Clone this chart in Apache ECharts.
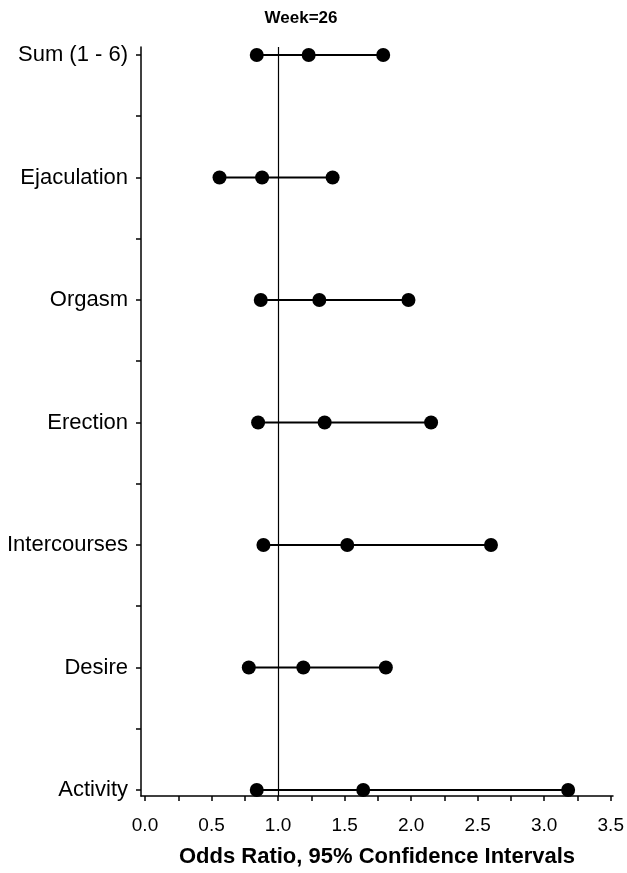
<!DOCTYPE html>
<html>
<head>
<meta charset="utf-8">
<script src="https://cdn.jsdelivr.net/npm/echarts@6/dist/echarts.min.js"></script>
<style>
  html, body { margin: 0; padding: 0; background: #fff; }
  #main { width: 627px; height: 873px; }
</style>
</head>
<body>
<div id="main"></div>
<script>
// rows, top to bottom
var categories = ['Sum (1 - 6)', 'Ejaculation', 'Orgasm', 'Erection', 'Intercourses', 'Desire', 'Activity'];
var lower = [0.84, 0.56, 0.87, 0.85, 0.89, 0.78, 0.84];
var estimate = [1.23, 0.88, 1.31, 1.35, 1.52, 1.19, 1.64];
var upper = [1.79, 1.41, 1.98, 2.15, 2.60, 1.81, 3.18];
var xLabels = [0, 0.5, 1, 1.5, 2, 2.5, 3, 3.5];

var FONT = 'Liberation Sans';

var chart = echarts.init(document.getElementById('main'), null, { renderer: 'canvas' });

// dots: lower, estimate, upper for each row
var dots = [];
for (var i = 0; i < categories.length; i++) {
  dots.push([lower[i], i]);
  dots.push([estimate[i], i]);
  dots.push([upper[i], i]);
}
var segs = categories.map(function (c, i) { return [lower[i], upper[i], i]; });

var xTicks = [];
for (var t = 0; t <= 3.5; t += 0.25) xTicks.push(t);
var yTicks = [];
for (var k = 0; k <= 6; k += 0.5) yTicks.push(k);

var option = {
  backgroundColor: '#fff',
  animation: false,
  title: {
    text: 'Week=26',
    left: 296,
    top: 5,
    textAlign: 'center',
    textStyle: { fontFamily: FONT, fontSize: 17, fontWeight: 'bold', color: '#000' }
  },
  grid: { left: 141, right: 14, top: 47, bottom: 76 },
  xAxis: {
    type: 'value',
    min: -0.03,
    max: 3.517,
    name: 'Odds Ratio, 95% Confidence Intervals',
    nameLocation: 'middle',
    nameGap: 50,
    nameTextStyle: { fontFamily: FONT, fontSize: 22, fontWeight: 'bold', color: '#000' },
    splitLine: { show: false },
    axisLine: { onZero: false, lineStyle: { color: '#000', width: 1.5 } },
    axisTick: { customValues: xTicks, length: 5, lineStyle: { color: '#000', width: 1.5 } },
    axisLabel: {
      customValues: xLabels,
      margin: 20,
      fontFamily: FONT, fontSize: 19, color: '#000',
      formatter: function (v) { return v.toFixed(1); }
    }
  },
  yAxis: {
    type: 'value',
    inverse: true,
    min: -0.065,
    max: 6.049,
    splitLine: { show: false },
    axisLine: { onZero: false, lineStyle: { color: '#000', width: 1.5 } },
    axisTick: { customValues: yTicks, length: 5, lineStyle: { color: '#000', width: 1.5 } },
    axisLabel: {
      customValues: [0, 1, 2, 3, 4, 5, 6],
      margin: 13,
      fontFamily: FONT, fontSize: 22, color: '#000',
      formatter: function (v) { return categories[Math.round(v)]; }
    }
  },
  series: [
    {
      type: 'custom',
      data: segs,
      renderItem: function (params, api) {
        var a = api.coord([api.value(0), api.value(2)]);
        var b = api.coord([api.value(1), api.value(2)]);
        return {
          type: 'line',
          shape: { x1: a[0], y1: a[1], x2: b[0], y2: b[1] },
          style: { stroke: '#000', lineWidth: 2 }
        };
      },
      markLine: {
        silent: true,
        symbol: 'none',
        label: { show: false },
        lineStyle: { color: '#000', width: 1.2, type: 'solid' },
        data: [{ xAxis: 1 }]
      }
    },
    {
      type: 'scatter',
      data: dots,
      symbol: 'circle',
      symbolSize: 14,
      itemStyle: { color: '#000', opacity: 1 }
    }
  ]
};

chart.setOption(option);
</script>
</body>
</html>
